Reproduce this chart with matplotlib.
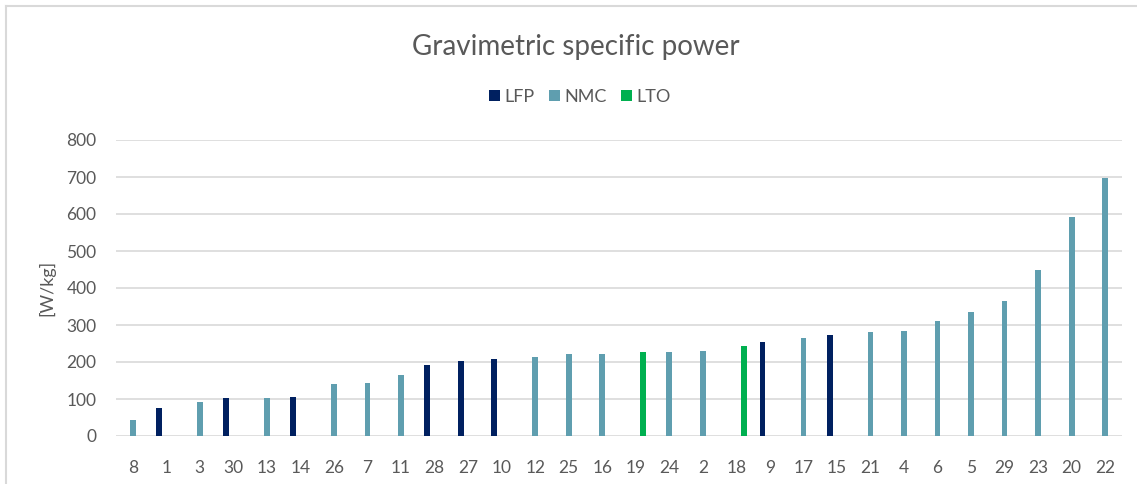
import matplotlib
matplotlib.use("Agg")
import matplotlib.pyplot as plt
from matplotlib.patches import Patch
from matplotlib.lines import Line2D
import numpy as np

categories = ["8", "1", "3", "30", "13", "14", "26", "7", "11", "28", "27", "10",
              "12", "25", "16", "19", "24", "2", "18", "9", "17", "15", "21", "4",
              "6", "5", "29", "23", "20", "22"]
chemistry = ["NMC", "LFP", "NMC", "LFP", "NMC", "LFP", "NMC", "NMC", "NMC", "LFP",
             "LFP", "LFP", "NMC", "NMC", "NMC", "LTO", "NMC", "NMC", "LTO", "LFP",
             "NMC", "LFP", "NMC", "NMC", "NMC", "NMC", "NMC", "NMC", "NMC", "NMC"]
power = [42, 77, 91, 103, 103, 106, 140, 143, 166, 192, 204, 209,
         213, 222, 222, 228, 228, 231, 242, 254, 265, 274, 280, 285,
         312, 335, 364, 448, 591, 697]

series = ["LFP", "NMC", "LTO"]
colors = {"LFP": "#002060", "NMC": "#5F9EAF", "LTO": "#00B050"}
offsets = {"LFP": -0.218, "NMC": 0.0, "LTO": 0.218}

plt.rcParams['font.family'] = ['Lato', 'DejaVu Sans']
text_color = "#595959"

W, H = 1137, 484
fig = plt.figure(figsize=(W / 100, H / 100), dpi=100)
fig.patch.set_facecolor("white")

ax = fig.add_axes([116 / W, (H - 436) / H, (1122 - 116) / W, (436 - 140) / H])

x = np.arange(len(categories))
for s in series:
    xs = [xi + offsets[s] for xi, c in zip(x, chemistry) if c == s]
    vs = [v for v, c in zip(power, chemistry) if c == s]
    ax.bar(xs, vs, width=0.17, color=colors[s], zorder=3, label=s)

ax.set_xlim(-0.5, len(categories) - 0.5)
ax.set_ylim(0, 800)
ax.set_yticks(np.arange(0, 801, 100))
ax.set_xticks(x)
ax.set_xticklabels(categories)
ax.grid(axis="y", color="#D9D9D9", linewidth=1.2, zorder=0)
ax.set_axisbelow(True)
for sp in ax.spines.values():
    sp.set_visible(False)
ax.tick_params(axis="both", length=0, labelsize=12.5, colors=text_color)
ax.tick_params(axis="x", pad=17)
ax.tick_params(axis="y", pad=14)

fig.text(47 / W, 1 - 288 / H, "[W/kg]", rotation=90, ha="center", va="center",
         fontsize=13, color=text_color)

fig.text(576 / W, 1 - 47 / H, "Gravimetric specific power", ha="center", va="center",
         fontsize=20, color=text_color)

handles = [Patch(facecolor=colors[s], edgecolor="none") for s in series]
leg = fig.legend(handles, series, loc="center", bbox_to_anchor=(580 / W, 1 - 97 / H),
                 ncol=3, frameon=False, fontsize=13, handlelength=0.6, handleheight=0.6,
                 handletextpad=0.25, columnspacing=0.8, borderaxespad=0, borderpad=0)
for t in leg.get_texts():
    t.set_color(text_color)

# chart border (only left and top visible in the crop)
fig.add_artist(Line2D([6 / W, 6 / W], [0, 1 - 6 / H], transform=fig.transFigure,
                      color="#D9D9D9", linewidth=1.5))
fig.add_artist(Line2D([6 / W, 1], [1 - 6 / H, 1 - 6 / H], transform=fig.transFigure,
                      color="#D9D9D9", linewidth=1.5))

fig.savefig("out.png", dpi=100, facecolor="white")
